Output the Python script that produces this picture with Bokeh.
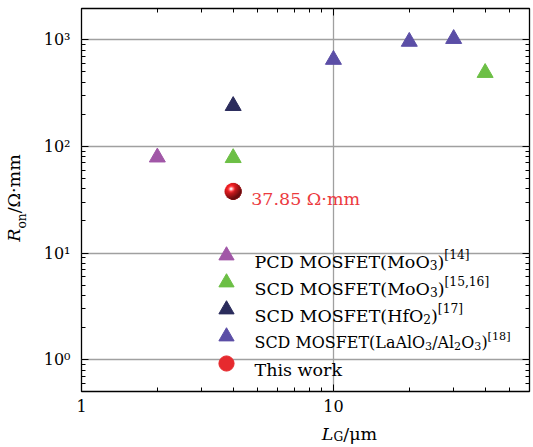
import glob, math, struct
import numpy as np
from bokeh.plotting import figure
from bokeh.models import FixedTicker, LogAxis, Label, Legend, LegendItem, GridBox
from bokeh.embed import file_html
from bokeh.resources import INLINE

# ---------------- data ----------------
pcd_moo3_lg = [2]
pcd_moo3_ron = [79]
scd_moo3_lg = [4, 40]
scd_moo3_ron = [78, 490]
scd_hfo2_lg = [4]
scd_hfo2_ron = [240]
scd_laalo3_lg = [10, 20, 30]
scd_laalo3_ron = [650, 960, 1020]
this_work_lg = [4]
this_work_ron = [37.85]
this_work_note = "37.85 Ω·mm"

x_major_ticks = [1, 10]
x_minor_ticks = [2, 3, 4, 5, 6, 7, 8, 9, 20, 30, 40, 50]
y_major_ticks = [1, 10, 100, 1000]
y_minor_ticks = [0.6, 0.7, 0.8, 0.9, 2, 3, 4, 5, 6, 7, 8, 9,
                 20, 30, 40, 50, 60, 70, 80, 90,
                 200, 300, 400, 500, 600, 700, 800, 900]
x_tick_labels = ["1", "10"]
y_tick_labels = ["10⁰", "10¹", "10²", "10³"]

# legend labels as pieces: (text, role)
legend_pcd_moo3 = [("PCD MOSFET(MoO", "n"), ("3", "sub"), (")", "n"), ("[14]", "sup")]
legend_scd_moo3 = [("SCD MOSFET(MoO", "n"), ("3", "sub"), (")", "n"), ("[15,16]", "sup")]
legend_scd_hfo2 = [("SCD MOSFET(HfO", "n"), ("2", "sub"), (")", "n"), ("[17]", "sup")]
legend_scd_laalo3 = [("SCD MOSFET(LaAlO", "n"), ("3", "sub"), ("/Al", "n"), ("2", "sub"),
                     ("O", "n"), ("3", "sub"), (")", "n"), ("[18]", "sup")]
legend_this_work = [("This work", "n")]
x_label = [("L", "it"), ("G", "sub"), ("/μm", "n")]
y_label = [("R", "it"), ("on", "sub"), ("/Ω·mm", "n")]

# ---------------- styles ----------------
FONT = "DejaVu Serif"
C_PCD = "#a157a7"
C_MOO3 = "#6cbf45"
C_HFO2 = "#2b2c5c"
C_LAALO = "#5b4ea6"
C_RED = "#e62a2e"
C_NOTE = "#ec3a3e"

TOTAL_W, TOTAL_H = 533, 447
YT_W = 40
MAIN_H = 419
MAIN_W = TOTAL_W - YT_W
XT_H = TOTAL_H - MAIN_H
F_LEFT, F_RIGHT, F_TOP, F_BOTTOM = 80, 529, 8, 391
B_LEFT = F_LEFT - YT_W
B_RIGHT = TOTAL_W - F_RIGHT
B_TOP = F_TOP
B_BOTTOM = MAIN_H - F_BOTTOM
ROT_ANCHOR_K = 0.75   # rotated labels anchor at the glyph top: baseline = anchor + K*size


def _parse_ttf(path):
    data = open(path, "rb").read()
    num = struct.unpack(">H", data[4:6])[0]
    tabs = {}
    for i in range(num):
        rec = data[12 + 16 * i: 28 + 16 * i]
        tabs[rec[:4].decode("latin-1")] = struct.unpack(">I", rec[8:12])[0]
    upem = struct.unpack(">H", data[tabs["head"] + 18: tabs["head"] + 20])[0]
    nhm = struct.unpack(">H", data[tabs["hhea"] + 34: tabs["hhea"] + 36])[0]
    hm = tabs["hmtx"]
    adv = struct.unpack(">%dH" % (2 * nhm), data[hm: hm + 4 * nhm])[0::2]
    cm = tabs["cmap"]
    nsub = struct.unpack(">H", data[cm + 2: cm + 4])[0]
    sub = None
    for i in range(nsub):
        pid, eid, off = struct.unpack(">HHI", data[cm + 4 + 8 * i: cm + 12 + 8 * i])
        s = cm + off
        fmt = struct.unpack(">H", data[s:s + 2])[0]
        if fmt == 4 and (pid == 0 or (pid == 3 and eid == 1)):
            sub = s
            break
    segx2 = struct.unpack(">H", data[sub + 6: sub + 8])[0]
    n = segx2 // 2
    ends = struct.unpack(">%dH" % n, data[sub + 14: sub + 14 + segx2])
    starts = struct.unpack(">%dH" % n, data[sub + 16 + segx2: sub + 16 + 2 * segx2])
    deltas = struct.unpack(">%dh" % n, data[sub + 16 + 2 * segx2: sub + 16 + 3 * segx2])
    ro = sub + 16 + 3 * segx2
    roffs = struct.unpack(">%dH" % n, data[ro: ro + segx2])

    def glyph(c):
        for k in range(n):
            if ends[k] >= c:
                if starts[k] > c:
                    return 0
                if roffs[k] == 0:
                    return (c + deltas[k]) & 0xFFFF
                addr = ro + 2 * k + roffs[k] + 2 * (c - starts[k])
                g = struct.unpack(">H", data[addr:addr + 2])[0]
                return (g + deltas[k]) & 0xFFFF if g else 0
        return 0

    def width(text, size):
        tot = 0
        for ch in text:
            g = glyph(ord(ch))
            tot += adv[min(g, nhm - 1)]
        return tot * size / upem
    return width


def _load(name):
    for root in ("/usr/share/fonts", "/usr/local/share/fonts", "/root/.fonts", "/usr/share"):
        for path in glob.glob(root + "/**/" + name, recursive=True):
            try:
                return _parse_ttf(path)
            except Exception:
                pass
    return None


_w_norm = _load("DejaVuSerif.ttf")
_w_ital = _load("DejaVuSerif-Italic.ttf") or _w_norm


def text_width(text, size, style):
    f = _w_ital if style == "italic" else _w_norm
    if f is None:
        return 0.62 * size * len(text)
    return f(text, size)


def frag_style(role, base):
    if role == "sub":
        return base * 0.7, -0.2 * base, "normal"
    if role == "sup":
        return base * 0.7, 0.38 * base, "normal"
    if role == "it":
        return base, 0.0, "italic"
    return base, 0.0, "normal"


def chain_width(frags, base):
    tot = 0
    for text, role in frags:
        size, dy, style = frag_style(role, base)
        tot += text_width(text, size, style)
    return tot


def place_chain(fig, origin, frags, px, py, base, color="black", rotate=False, center=False):
    """origin = page coords of the figure frame's bottom-left corner; (px, py) = baseline start."""
    ox, oy = origin
    items, tot = [], 0.0
    for text, role in frags:
        size, dy, style = frag_style(role, base)
        items.append((text, size, dy, style, tot))
        tot += text_width(text, size, style)
    off = -tot / 2 if center else 0.0
    for text, size, dy, style, pos in items:
        if rotate:
            sx = px - ox - dy - ROT_ANCHOR_K * size
            sy, ang = oy - py + off + pos, math.pi / 2
        else:
            sx, sy, ang = px - ox + off + pos, oy - py + dy, 0.0
        fig.add_layout(Label(x=sx, y=sy, x_units="screen", y_units="screen", text=text,
                             text_font=FONT, text_font_size="%.2fpx" % size,
                             text_font_style=style, text_color=color, text_align="left",
                             text_baseline="alphabetic", angle=ang))


p = figure(width=MAIN_W, height=MAIN_H, x_axis_type="log", y_axis_type="log",
           x_range=(1, 60), y_range=(0.504, 1963),
           output_backend="svg", toolbar_location=None,
           min_border_left=B_LEFT, min_border_right=B_RIGHT,
           min_border_top=B_TOP, min_border_bottom=B_BOTTOM)
p.background_fill_color = "white"
p.border_fill_color = "white"
p.outline_line_color = "black"
p.outline_line_width = 1.3

bottom_axis = p.below[0]
left_axis = p.left[0]

xt = FixedTicker(ticks=x_major_ticks, minor_ticks=x_minor_ticks)
yt = FixedTicker(ticks=y_major_ticks, minor_ticks=y_minor_ticks)
p.xgrid.ticker = FixedTicker(ticks=x_major_ticks)
p.ygrid.ticker = FixedTicker(ticks=y_major_ticks)
for g in (p.xgrid[0], p.ygrid[0]):
    g.grid_line_color = "#a0a0a0"
    g.grid_line_width = 1.3

top_axis = LogAxis(ticker=xt)
right_axis = LogAxis(ticker=yt)
p.add_layout(top_axis, "above")
p.add_layout(right_axis, "right")

bottom_axis.ticker = xt
left_axis.ticker = yt
for ax in (bottom_axis, left_axis, top_axis, right_axis):
    ax.axis_line_color = None
    ax.major_tick_in = 7
    ax.major_tick_out = 0
    ax.minor_tick_in = 4
    ax.minor_tick_out = 0
    ax.major_tick_line_color = "black"
    ax.minor_tick_line_color = "black"
    ax.major_tick_line_width = 1
    ax.minor_tick_line_width = 1
    ax.major_label_text_font = FONT
    ax.major_label_text_color = "black"

bottom_axis.major_label_overrides = dict(zip(x_major_ticks, x_tick_labels))
left_axis.major_label_overrides = dict(zip(y_major_ticks, y_tick_labels))
bottom_axis.major_label_text_font_size = "16px"
left_axis.major_label_text_font_size = "16px"
bottom_axis.major_label_standoff = 8
left_axis.major_label_standoff = 11
top_axis.major_label_overrides = {v: "" for v in x_major_ticks}
right_axis.major_label_overrides = {v: "" for v in y_major_ticks}
for ax in (top_axis, right_axis):
    ax.major_label_text_font_size = "0px"
    ax.major_label_standoff = 0

r_pcd = p.scatter(pcd_moo3_lg, pcd_moo3_ron, marker="triangle", size=16,
                  fill_color=C_PCD, line_color=C_PCD)
r_moo3 = p.scatter(scd_moo3_lg, scd_moo3_ron, marker="triangle", size=16,
                   fill_color=C_MOO3, line_color=C_MOO3)
r_hfo2 = p.scatter(scd_hfo2_lg, scd_hfo2_ron, marker="triangle", size=16,
                   fill_color=C_HFO2, line_color=C_HFO2)
r_laalo = p.scatter(scd_laalo3_lg, scd_laalo3_ron, marker="triangle", size=16,
                    fill_color=C_LAALO, line_color=C_LAALO)
r_this = p.scatter(this_work_lg, this_work_ron, marker="circle", size=16,
                   fill_color=C_RED, line_color=C_RED)

# shaded sphere image over the red point
n = 48
u = (np.arange(n) + 0.5) / n * 2 - 1
U, V = np.meshgrid(u, u)
R = np.sqrt(U ** 2 + V ** 2)
Z = np.sqrt(np.clip(1 - R ** 2, 0, 1))
Ld = np.array([-0.45, 0.55, 0.70]); Ld /= np.linalg.norm(Ld)
Hd = Ld + np.array([0, 0, 1.0]); Hd /= np.linalg.norm(Hd)
diff = np.clip(U * Ld[0] + V * Ld[1] + Z * Ld[2], 0, 1)
spec = np.clip(U * Hd[0] + V * Hd[1] + Z * Hd[2], 0, 1) ** 30
base_rgb = np.array([232, 28, 32], dtype=float)
col = base_rgb[None, None, :] * (0.45 + 0.6 * diff[..., None]) + 255 * 0.95 * spec[..., None]
col = np.clip(col, 0, 255)
alpha = np.clip((1 - R) * n / 2, 0, 1) * 255
img = np.zeros((n, n), dtype=np.uint32)
view = img.view(dtype=np.uint8).reshape((n, n, 4))
for k in range(3):
    view[..., k] = col[..., k].astype(np.uint8)
view[..., 3] = alpha.astype(np.uint8)
p.image_rgba(image=[img], x=this_work_lg, y=this_work_ron, dw=17, dh=17,
             dw_units="screen", dh_units="screen", anchor="center")

p.add_layout(Label(x=this_work_lg[0], y=this_work_ron[0], text=this_work_note,
                   x_offset=18, y_offset=-7.5, text_font=FONT, text_font_size="17.5px",
                   text_color=C_NOTE, text_align="left", text_baseline="alphabetic"))

# legend glyphs via two interleaved Bokeh legends; text via chained labels
ROW_STEP = 27
GLYPH = 38
leg_common = dict(orientation="vertical", glyph_width=GLYPH, glyph_height=GLYPH,
                  spacing=2 * ROW_STEP - GLYPH, padding=0, margin=0,
                  border_line_color=None, background_fill_alpha=0,
                  label_text_font_size="1px", label_height=1, label_width=1,
                  label_standoff=0)
first_center = 255
glyph_cx = 225
lx = glyph_cx - F_LEFT - GLYPH / 2
a_bottom = first_center - GLYPH / 2 + 3 * GLYPH + 2 * (2 * ROW_STEP - GLYPH)
legend_a = Legend(items=[LegendItem(label=" ", renderers=[r]) for r in (r_pcd, r_hfo2, r_this)],
                  location=(lx, F_BOTTOM - a_bottom), **leg_common)
b_bottom = first_center + ROW_STEP - GLYPH / 2 + 2 * GLYPH + (2 * ROW_STEP - GLYPH)
legend_b = Legend(items=[LegendItem(label=" ", renderers=[r]) for r in (r_moo3, r_laalo)],
                  location=(lx, F_BOTTOM - b_bottom), **leg_common)
p.add_layout(legend_a)
p.add_layout(legend_b)

LEG_BASE = 17.5
rows = [legend_pcd_moo3, legend_scd_moo3, legend_scd_hfo2, legend_scd_laalo3, legend_this_work]
main_origin = (F_LEFT, F_BOTTOM)
for i, frags in enumerate(rows):
    base = LEG_BASE
    if frags is legend_scd_laalo3:
        w = chain_width(frags, LEG_BASE)
        if w > 256:
            base = LEG_BASE * 256 / w
    place_chain(p, main_origin, frags, 253, first_center + i * ROW_STEP + 6, base)


def text_panel(w, h, **borders):
    f = figure(width=w, height=h, output_backend="svg", toolbar_location=None,
               x_axis_location=None, y_axis_location=None, **borders)
    f.outline_line_color = None
    f.background_fill_color = "white"
    f.border_fill_color = "white"
    for g in f.grid:
        g.visible = False
    return f


py_fig = text_panel(YT_W, MAIN_H, min_border_left=0, min_border_right=0,
                    min_border_top=B_TOP, min_border_bottom=B_BOTTOM)
px_fig = text_panel(MAIN_W, XT_H, min_border_left=B_LEFT, min_border_right=B_RIGHT,
                    min_border_top=0, min_border_bottom=0)
place_chain(py_fig, (0, F_BOTTOM), y_label, 27, 197.5, 17.5, rotate=True, center=True)
place_chain(px_fig, (F_LEFT, TOTAL_H), x_label, 348, 433, 17.5, center=True)

layout = GridBox(children=[(py_fig, 0, 0), (p, 0, 1), (px_fig, 1, 1)], spacing=0)

open("out.html", "w").write(file_html(layout, INLINE))
